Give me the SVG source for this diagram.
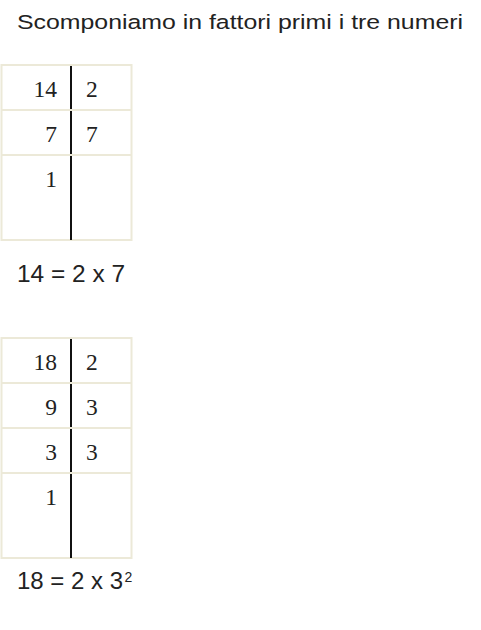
<svg xmlns="http://www.w3.org/2000/svg" width="481" height="630" viewBox="0 0 481 630">
<style>
.t{font-family:"Liberation Sans",Arial,sans-serif;fill:#222}
.n{font-family:"Liberation Serif","Times New Roman",serif;font-size:23.5px;fill:#222}
.l{text-anchor:end}
.b{fill:none;stroke:#ece9d8;stroke-width:2}
.v{stroke:#111;stroke-width:2}
</style>
<rect width="481" height="630" fill="#fff"/>
<text class="t" x="17" y="29" font-size="20.5" textLength="446" lengthAdjust="spacingAndGlyphs">Scomponiamo in fattori primi i tre numeri</text>

<g id="table14">
<rect class="b" x="1.5" y="65" width="130" height="175"/>
<line class="b" x1="1.5" y1="110" x2="131.5" y2="110"/>
<line class="b" x1="1.5" y1="155" x2="131.5" y2="155"/>
<line class="v" x1="71" y1="66" x2="71" y2="109"/>
<line class="v" x1="71" y1="111" x2="71" y2="154"/>
<line class="v" x1="71" y1="156" x2="71" y2="240"/>
<text class="n l" x="57" y="97">14</text>
<text class="n" x="86" y="97">2</text>
<text class="n l" x="57" y="142">7</text>
<text class="n" x="86" y="142">7</text>
<text class="n l" x="57" y="187">1</text>
</g>
<text id="eq14" class="t" x="17" y="282" font-size="23" textLength="108" lengthAdjust="spacingAndGlyphs">14 = 2 x 7</text>

<g id="table18">
<rect class="b" x="1.5" y="338" width="130" height="220"/>
<line class="b" x1="1.5" y1="383" x2="131.5" y2="383"/>
<line class="b" x1="1.5" y1="428" x2="131.5" y2="428"/>
<line class="b" x1="1.5" y1="473" x2="131.5" y2="473"/>
<line class="v" x1="71" y1="339" x2="71" y2="382"/>
<line class="v" x1="71" y1="384" x2="71" y2="427"/>
<line class="v" x1="71" y1="429" x2="71" y2="472"/>
<line class="v" x1="71" y1="474" x2="71" y2="558"/>
<text class="n l" x="57" y="370">18</text>
<text class="n" x="86" y="370">2</text>
<text class="n l" x="57" y="415">9</text>
<text class="n" x="86" y="415">3</text>
<text class="n l" x="57" y="460">3</text>
<text class="n" x="86" y="460">3</text>
<text class="n l" x="57" y="505">1</text>
</g>
<g id="eq18">
<text class="t" x="17" y="589" font-size="23" textLength="106" lengthAdjust="spacingAndGlyphs">18 = 2 x 3</text>
<text class="t" x="124.5" y="582" font-size="14">2</text>
</g>
</svg>
